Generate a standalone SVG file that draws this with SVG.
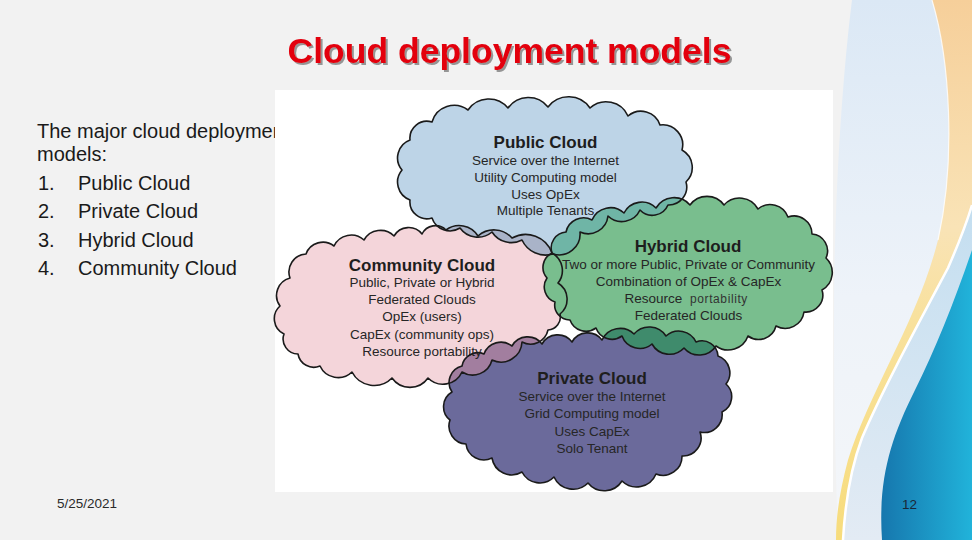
<svg xmlns="http://www.w3.org/2000/svg" width="972" height="540" viewBox="0 0 972 540">
<defs>
<style>
.t{font-family:"Liberation Sans",Arial,sans-serif}
.list{font-size:20px;fill:#1a1a1a}
.ct{font-size:17px;font-weight:bold;fill:#1e1e1e;text-anchor:middle}
.cl{font-size:13.5px;fill:#262626;text-anchor:middle}
.ol{fill:none;stroke:#1a1a1a;stroke-width:1.6;stroke-linejoin:round}
</style>
<linearGradient id="gLight" x1="0" y1="0" x2="0" y2="1">
<stop offset="0" stop-color="#dbe8f5"/><stop offset="0.55" stop-color="#eef3f9"/><stop offset="1" stop-color="#f4f6f9"/>
</linearGradient>
<linearGradient id="gOrange" x1="0" y1="0" x2="0" y2="540" gradientUnits="userSpaceOnUse">
<stop offset="0" stop-color="#f6cf9a"/><stop offset="0.42" stop-color="#f9e3b6"/><stop offset="0.6" stop-color="#f8e19c"/><stop offset="1" stop-color="#f7dc7c"/>
</linearGradient>
<linearGradient id="gPale" x1="0" y1="200" x2="0" y2="540" gradientUnits="userSpaceOnUse">
<stop offset="0" stop-color="#c3def0"/><stop offset="1" stop-color="#e3ebf4"/>
</linearGradient>
<linearGradient id="gBlue" x1="880" y1="0" x2="972" y2="0" gradientUnits="userSpaceOnUse">
<stop offset="0" stop-color="#1676ad"/><stop offset="1" stop-color="#21b3da"/>
</linearGradient>
<filter id="shadow" x="-5%" y="-20%" width="110%" height="150%">
<feDropShadow dx="2" dy="2" stdDeviation="0.7" flood-color="#4a4a4a" flood-opacity="0.55"/>
</filter>
<path id="pubPath" d="M402,170 A19,19 0 0 1 410,140 A17,17 0 0 1 432,122 A23,23 0 0 1 468,110 A25,25 0 0 1 508,108 A25,25 0 0 1 548,107 A26,26 0 0 1 590,108 A24,24 0 0 1 628,116 A20,20 0 0 1 660,125 A20,20 0 0 1 682,150 A20,20 0 0 1 686,182 A18,18 0 0 1 668,205 A17,17 0 0 1 640,210 A20,20 0 0 1 608,216 A20,20 0 0 1 580,232 A21,21 0 0 1 553,254 A26,26 0 0 1 522,240 A23,23 0 0 1 492,232 A22,22 0 0 1 460,228 A19,19 0 0 1 432,218 A17,17 0 0 1 410,200 A19,19 0 0 1 402,170 Z"/>
<path id="comPath" d="M290,278 A18,18 0 0 1 306,254 A18,18 0 0 1 334,246 A19,19 0 0 1 364,240 A19,19 0 0 1 394,236 A17,17 0 0 1 422,234 A15,15 0 0 1 446,230 A22,22 0 0 1 478,236 A24,24 0 0 1 512,238 A28,28 0 0 1 552,253 A20,20 0 0 1 558,283 A19,19 0 0 1 560,314 A13,13 0 0 1 548,330 A18,18 0 0 1 522,342 A21,21 0 0 1 492,360 A20,20 0 0 1 462,372 A21,21 0 0 1 428,378 A22,22 0 0 1 392,378 A25,25 0 0 1 352,372 A20,20 0 0 1 320,366 A16,16 0 0 1 298,354 A15,15 0 0 1 284,334 A17,17 0 0 1 280,306 A18,18 0 0 1 290,278 Z"/>
<path id="hybPath" d="M552,253 A16,16 0 0 1 566,232 A18,18 0 0 1 592,220 A20,20 0 0 1 624,213 A20,20 0 0 1 656,208 A21,21 0 0 1 690,205 A21,21 0 0 1 724,205 A21,21 0 0 1 758,209 A19,19 0 0 1 788,217 A18,18 0 0 1 812,234 A17,17 0 0 1 826,258 A20,20 0 0 1 822,290 A17,17 0 0 1 804,312 A19,19 0 0 1 776,326 A18,18 0 0 1 748,336 A21,21 0 0 1 716,346 A20,20 0 0 1 684,348 A20,20 0 0 1 652,344 A19,19 0 0 1 622,336 A17,17 0 0 1 596,328 A17,17 0 0 1 570,320 A15,15 0 0 1 555,302 A16,16 0 0 1 547,278 A16,16 0 0 1 552,253 Z"/>
<path id="priPath" d="M452,392 A17,17 0 0 1 462,366 A16,16 0 0 1 484,354 A18,18 0 0 1 512,346 A18,18 0 0 1 542,344 A18,18 0 0 1 572,342 A18,18 0 0 1 602,340 A20,20 0 0 1 634,334 A20,20 0 0 1 666,336 A19,19 0 0 1 696,342 A16,16 0 0 1 718,356 A18,18 0 0 1 726,384 A17,17 0 0 1 722,412 A18,18 0 0 1 700,432 A18,18 0 0 1 682,456 A19,19 0 0 1 656,474 A21,21 0 0 1 622,481 A21,21 0 0 1 588,483 A21,21 0 0 1 554,477 A20,20 0 0 1 522,472 A20,20 0 0 1 492,458 A18,18 0 0 1 466,444 A18,18 0 0 1 450,420 A17,17 0 0 1 452,392 Z"/>
<clipPath id="cPub"><use href="#pubPath"/></clipPath>
<clipPath id="cCom"><use href="#comPath"/></clipPath>
<clipPath id="cHyb"><use href="#hybPath"/></clipPath>
</defs>

<!-- slide background -->
<rect x="0" y="0" width="972" height="540" fill="#f2f2f2"/>
<g id="decoration">
<path d="M852,0 C842,80 834,200 834,320 C834,420 836,480 838,540 L972,540 L972,0 Z" fill="url(#gLight)"/>
<path d="M932,0 C950,60 956,160 938,240 C918,320 870,390 848,460 C840,490 836,515 836,540 L843,540 C845,505 850,470 862,438 C880,395 915,330 948,268 C958,245 966,225 972,205 L972,0 Z" fill="url(#gOrange)"/>
<path d="M972,205 C966,225 958,245 948,268 C915,330 880,395 862,438 C850,470 845,505 843,540 L972,540 Z" fill="url(#gPale)"/>
<path d="M972,250 C955,300 935,350 915,390 C890,440 878,480 882,540 L972,540 Z" fill="url(#gBlue)"/>
<path d="M972,205 C966,225 958,245 948,268 C915,330 880,395 862,438 C850,470 845,505 843,540" fill="none" stroke="#ffffff" stroke-width="2.5"/>
<path d="M932,0 C950,60 956,160 938,240" fill="none" stroke="#ffffff" stroke-width="1.2" opacity="0.8"/>
</g>

<g id="intro-text" class="t">
<text class="list" x="37" y="138">The major cloud deployment</text>
<text class="list" x="37" y="161">models:</text>
<text class="list" x="38" y="190">1.</text><text class="list" x="78" y="190">Public Cloud</text>
<text class="list" x="38" y="218">2.</text><text class="list" x="78" y="218">Private Cloud</text>
<text class="list" x="38" y="247">3.</text><text class="list" x="78" y="247">Hybrid Cloud</text>
<text class="list" x="38" y="275">4.</text><text class="list" x="78" y="275">Community Cloud</text>
</g>

<g id="footer" class="t">
<text x="57" y="508" font-size="13.5" fill="#2a2a2a">5/25/2021</text>
<text x="902" y="509" font-size="13.5" fill="#1a2838">12</text>
</g>

<text id="title" class="t" x="509.5" y="63" font-size="35.5" font-weight="bold" fill="#e3000f" text-anchor="middle" filter="url(#shadow)">Cloud deployment models</text>

<!-- figure -->
<rect id="figure-bg" x="275" y="90" width="558" height="402" fill="#ffffff"/>

<g id="public-cloud" class="t">
<use href="#pubPath" fill="#bdd4e7"/>
<text class="ct" x="545.5" y="148">Public Cloud</text>
<text class="cl" x="545.5" y="165">Service over the Internet</text>
<text class="cl" x="545.5" y="182">Utility Computing model</text>
<text class="cl" x="545.5" y="199">Uses OpEx</text>
<text class="cl" x="545.5" y="215">Multiple Tenants</text>
</g>

<g id="hybrid-cloud" class="t">
<use href="#hybPath" fill="#79be8e"/>
<use href="#hybPath" fill="#6fb5a6" clip-path="url(#cPub)"/>
<text class="ct" x="688" y="252" fill="#1a2a20">Hybrid Cloud</text>
<text class="cl" x="688.5" y="269">Two or more Public, Private or Community</text>
<text class="cl" x="688.5" y="286">Combination of OpEx &amp; CapEx</text>
<text class="cl" x="624.5" y="303" text-anchor="start" style="text-anchor:start">Resource</text>
<text x="690" y="303" font-size="12" letter-spacing="0.6" fill="#333333">portability</text>
<text class="cl" x="688.5" y="320">Federated Clouds</text>
</g>

<g id="private-cloud" class="t">
<use href="#priPath" fill="#6b6a9b"/>
<use href="#priPath" fill="#3f8b6c" clip-path="url(#cHyb)"/>
<text class="ct" x="592" y="384" fill="#17172a">Private Cloud</text>
<text class="cl" x="592" y="401" fill="#1c1c30">Service over the Internet</text>
<text class="cl" x="592" y="418" fill="#1c1c30">Grid Computing model</text>
<text class="cl" x="592" y="436" fill="#1c1c30">Uses CapEx</text>
<text class="cl" x="592" y="453" fill="#1c1c30">Solo Tenant</text>
</g>

<g id="community-cloud" class="t">
<use href="#comPath" fill="#f4d5da"/>
<use href="#comPath" fill="#a9b3c8" clip-path="url(#cPub)"/>
<use href="#hybPath" fill="#79be8e" clip-path="url(#cCom)"/>
<use href="#priPath" fill="#a27e9f" clip-path="url(#cCom)"/>
<text class="ct" x="422" y="271">Community Cloud</text>
<text class="cl" x="422" y="287">Public, Private or Hybrid</text>
<text class="cl" x="422" y="304">Federated Clouds</text>
<text class="cl" x="422" y="321">OpEx (users)</text>
<text class="cl" x="422" y="339">CapEx (community ops)</text>
<text class="cl" x="422" y="356">Resource portability</text>
</g>

<g id="cloud-outlines">
<use href="#pubPath" class="ol"/>
<use href="#comPath" class="ol"/>
<use href="#hybPath" class="ol"/>
<use href="#priPath" class="ol"/>
</g>

<g id="connectors"></g>
</svg>
